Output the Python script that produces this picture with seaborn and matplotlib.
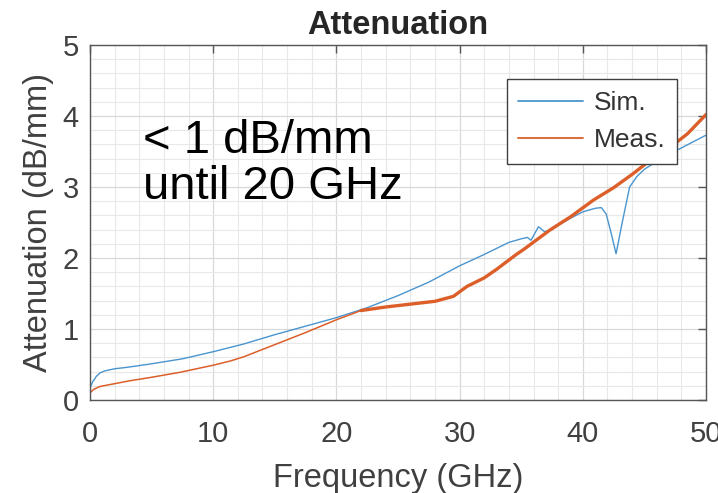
import numpy as np
import pandas as pd
import matplotlib
matplotlib.use("Agg")
import matplotlib.pyplot as plt
import seaborn as sns
from matplotlib.ticker import MultipleLocator

# ---- data ----
freq_sim = [0, 0.2, 0.5, 0.8, 1.2, 2, 3, 5, 7.5, 10, 12.5, 15, 17.5, 20, 22.5, 25,
            27.5, 30, 32, 34, 35, 35.5, 35.8, 36.4, 36.9, 37.5, 38, 39, 40, 41,
            41.5, 41.9, 42.3, 42.7, 43.2, 43.8, 44.4, 45, 46, 47, 48, 49, 50]
att_sim = [0.17, 0.25, 0.33, 0.38, 0.41, 0.44, 0.46, 0.51, 0.58, 0.68, 0.79, 0.92,
           1.04, 1.16, 1.30, 1.47, 1.66, 1.89, 2.05, 2.22, 2.27, 2.29, 2.25, 2.44,
           2.37, 2.40, 2.46, 2.56, 2.65, 2.70, 2.71, 2.62, 2.35, 2.06, 2.50, 3.00,
           3.15, 3.25, 3.36, 3.46, 3.55, 3.64, 3.73]

freq_meas = [0, 0.3, 0.8, 2, 3.2, 5, 7.3, 10, 11.4, 12.5, 15, 17.5, 20, 22, 24,
             26.5, 28, 29.5, 30.6, 32, 33, 34.6, 35.2, 37.3, 39, 40.9, 42.5, 44.1,
             45.5, 46.8, 48.5, 50]
att_meas = [0.10, 0.15, 0.19, 0.23, 0.27, 0.32, 0.39, 0.49, 0.55, 0.61, 0.78, 0.95,
            1.13, 1.26, 1.31, 1.36, 1.39, 1.46, 1.60, 1.72, 1.84, 2.05, 2.12, 2.39,
            2.58, 2.82, 2.99, 3.19, 3.38, 3.52, 3.75, 4.02]

series_labels = ["Sim.", "Meas."]
x_ticks = [0, 10, 20, 30, 40, 50]
y_ticks = [0, 1, 2, 3, 4, 5]

sns.set_style("white")
plt.rcParams["font.family"] = ["Liberation Sans", "DejaVu Sans"]

fig = plt.figure(figsize=(7.18, 4.93), dpi=100)
ax = fig.add_axes([90 / 718, 1 - 400 / 493, 616 / 718, 355 / 493])

blue = "#4a95cf"
orange = "#dc5f2a"

sns.lineplot(x=freq_sim, y=att_sim, ax=ax, color=blue, linewidth=1.0,
             label=series_labels[0], sort=False)
sns.lineplot(x=freq_meas, y=att_meas, ax=ax, color=orange, linewidth=1.1,
             label=series_labels[1], sort=False)
# measured trace gets noisier (thicker) at higher frequency
hi = [i for i, f in enumerate(freq_meas) if f >= 22]
ax.plot([freq_meas[i] for i in hi], [att_meas[i] for i in hi], color=orange,
        linewidth=2.4, solid_capstyle="round")

ax.set_xlim(0, 50)
ax.set_ylim(0, 5)
ax.set_xticks(x_ticks)
ax.set_yticks(y_ticks)
ax.xaxis.set_minor_locator(MultipleLocator(2))
ax.yaxis.set_minor_locator(MultipleLocator(0.2))
ax.grid(True, which="major", color="#d8d8d8", linewidth=0.9)
ax.grid(True, which="minor", color="#e8e8e8", linewidth=0.8)
ax.set_axisbelow(True)

ax.tick_params(axis="both", which="major", direction="in", length=6, width=1,
               color="#555555", labelcolor="#404040", labelsize=21,
               top=True, right=True)
ax.tick_params(axis="x", which="major", pad=14.5)
ax.tick_params(axis="y", which="major", pad=8)
ax.tick_params(axis="both", which="minor", length=0)
for s in ax.spines.values():
    s.set_color("#555555")
    s.set_linewidth(1.0)

ax.set_xlabel("Frequency (GHz)", fontsize=23.5, color="#404040", labelpad=10.5)
ax.set_ylabel("Attenuation (dB/mm)", fontsize=23.5, color="#404040", labelpad=6)
ax.set_title("Attenuation", fontsize=23.5, fontweight="bold", pad=8)

ax.text(4.3, 2.83, "< 1 dB/mm\nuntil 20 GHz", fontsize=34, color="black",
        va="baseline", ha="left", linespacing=1.05)

leg = ax.legend(loc="upper right", bbox_to_anchor=(0.953, 0.904), fontsize=19,
                frameon=True, fancybox=False, shadow=False, framealpha=1,
                edgecolor="#404040", handlelength=2.46, handletextpad=0.38,
                borderpad=0.45, labelspacing=0.5, borderaxespad=0)
leg.get_frame().set_linewidth(1.0)
for t in leg.get_texts():
    t.set_color("#333333")
for l in leg.get_lines():
    l.set_linewidth(1.3)

fig.savefig("out.png", dpi=100)
